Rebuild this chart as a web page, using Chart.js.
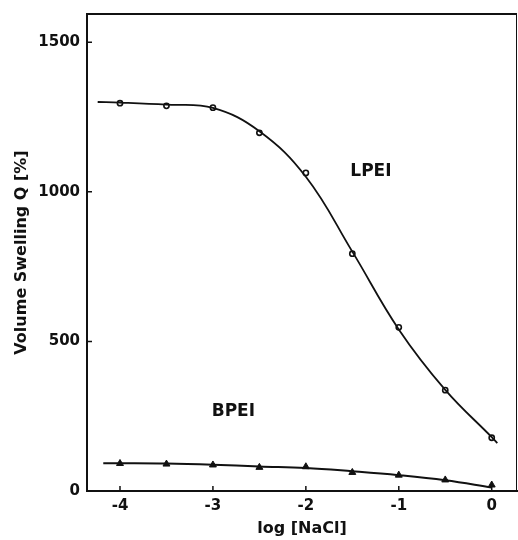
<!DOCTYPE html>
<html>
<head>
<meta charset="utf-8">
<script src="https://cdn.jsdelivr.net/npm/chart.js@4"></script>
<style>
  html, body { margin: 0; padding: 0; background: #fff; }
  #wrap { width: 518px; height: 540px; }
</style>
</head>
<body>
<div id="wrap"><canvas id="grafico" width="518" height="540"></canvas></div>
<script>
// medidos (pontos)
const logNaCl = [-4, -3.5, -3, -2.5, -2, -1.5, -1, -0.5, 0];
const lpei = [1296, 1287, 1281, 1197, 1063, 793, 547, 337, 178];
const bpei = [92, 90, 87, 79, 81, 62, 53, 37, 20];

// curvas ajustadas
const lpeiFitX = [-4.24, -4, -3.5, -3, -2.5, -2, -1.5, -1, -0.5, 0, 0.06];
const lpeiFitY = [1300, 1298, 1291, 1280, 1202, 1050, 800, 540, 338, 180, 160];
const bpeiFitX = [-4.18, -4, -3.5, -3, -2.5, -2, -1.5, -1, -0.5, 0];
const bpeiFitY = [93, 93, 92, 88, 82, 77, 66, 53, 36, 12];

const xTicks = [-4, -3, -2, -1, 0];
const yTicks = [0, 500, 1000, 1500];

// rótulos das curvas
const labelNames = ["LPEI", "BPEI"];
const labelX = [-1.3, -2.78];
const labelY = [1066, 266];

const FONTE = "'DejaVu Sans', sans-serif";

const pares = (xs, ys) => xs.map((x, i) => ({ x: x, y: ys[i] }));

// ticks para dentro, moldura e rótulos
const extras = {
  id: "extras",
  afterDraw(chart) {
    const { ctx, chartArea: a, scales } = chart;
    const xs = scales.x, ys = scales.y;
    ctx.save();
    ctx.strokeStyle = "#111";
    ctx.lineWidth = 1.5;
    ctx.beginPath();
    xTicks.forEach((v) => {
      const px = xs.getPixelForValue(v);
      ctx.moveTo(px, a.bottom);
      ctx.lineTo(px, a.bottom - 5);
    });
    yTicks.forEach((v) => {
      const py = ys.getPixelForValue(v);
      ctx.moveTo(a.left, py);
      ctx.lineTo(a.left + 5, py);
    });
    ctx.stroke();

    ctx.lineWidth = 2;
    ctx.beginPath();
    ctx.moveTo(a.left, a.top);
    ctx.lineTo(a.right, a.top);
    ctx.stroke();
    ctx.lineWidth = 1;
    ctx.beginPath();
    ctx.moveTo(a.right - 0.5, a.top);
    ctx.lineTo(a.right - 0.5, a.bottom);
    ctx.stroke();

    ctx.fillStyle = "#111";
    ctx.font = "bold 17px " + FONTE;
    ctx.textAlign = "center";
    ctx.textBaseline = "middle";
    labelNames.forEach((t, i) => {
      ctx.fillText(t, xs.getPixelForValue(labelX[i]), ys.getPixelForValue(labelY[i]));
    });
    ctx.restore();
  },
};

const ctx = document.getElementById("grafico").getContext("2d");
new Chart(ctx, {
  type: "scatter",
  data: {
    datasets: [
      {
        label: "LPEI ajuste",
        type: "line",
        data: pares(lpeiFitX, lpeiFitY),
        borderColor: "#111",
        borderWidth: 1.8,
        pointRadius: 0,
        fill: false,
        tension: 0.4,
      },
      {
        label: "BPEI ajuste",
        type: "line",
        data: pares(bpeiFitX, bpeiFitY),
        borderColor: "#111",
        borderWidth: 2,
        pointRadius: 0,
        fill: false,
        tension: 0.4,
      },
      {
        label: "LPEI",
        data: pares(logNaCl, lpei),
        pointStyle: "circle",
        pointRadius: 2.6,
        borderWidth: 1.6,
        borderColor: "#111",
        backgroundColor: "#fff",
      },
      {
        label: "BPEI",
        data: pares(logNaCl, bpei),
        pointStyle: "triangle",
        pointRadius: 4,
        borderWidth: 1,
        borderColor: "#111",
        backgroundColor: "#111",
      },
    ],
  },
  options: {
    responsive: false,
    animation: false,
    layout: { autoPadding: false, padding: { top: 14, right: 1, left: 0, bottom: 0 } },
    plugins: {
      legend: { display: false },
      tooltip: { enabled: false },
    },
    scales: {
      x: {
        type: "linear",
        min: -4.355,
        max: 0.272,
        afterBuildTicks: (s) => { s.ticks = xTicks.map((v) => ({ value: v })); },
        afterFit: (s) => { s.height = 49; s.paddingLeft = 0; s.paddingRight = 0; },
        grid: { display: false, drawTicks: false },
        border: { display: true, color: "#111", width: 2 },
        ticks: {
          padding: 6,
          color: "#111",
          callback: (v) => String(v),
          font: { family: FONTE, size: 15, weight: "bold" },
        },
        title: {
          display: true,
          text: "log [NaCl]",
          color: "#111",
          padding: { top: 0, bottom: 2 },
          font: { family: FONTE, size: 16, weight: "bold" },
        },
      },
      y: {
        min: 0,
        max: 1594,
        afterBuildTicks: (s) => { s.ticks = yTicks.map((v) => ({ value: v })); },
        afterFit: (s) => { s.width = 87; s.paddingTop = 0; s.paddingBottom = 0; },
        grid: { display: false, drawTicks: false },
        border: { display: true, color: "#111", width: 2 },
        ticks: {
          padding: 7,
          color: "#111",
          callback: (v) => String(v),
          font: { family: FONTE, size: 15, weight: "bold" },
        },
        title: {
          display: true,
          text: "Volume Swelling Q [%]",
          color: "#111",
          padding: { top: 12, bottom: 0 },
          font: { family: FONTE, size: 16, weight: "bold" },
        },
      },
    },
  },
  plugins: [extras],
});
</script>
</body>
</html>
